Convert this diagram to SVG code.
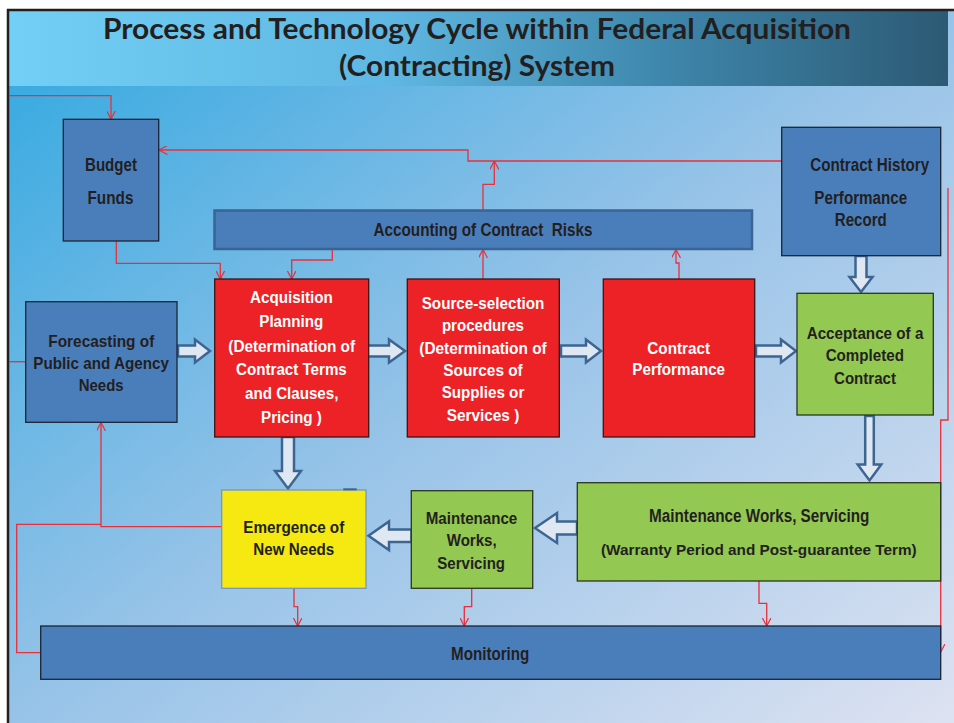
<svg xmlns="http://www.w3.org/2000/svg" width="954" height="723" viewBox="0 0 954 723">
<defs>
<linearGradient id="bg" x1="0" y1="0" x2="1" y2="1">
<stop offset="0" stop-color="#2fa8e0"/>
<stop offset="0.5" stop-color="#97c3e8"/>
<stop offset="1" stop-color="#dde2f1"/>
</linearGradient>
<linearGradient id="tb" x1="0" y1="0" x2="1" y2="0">
<stop offset="0" stop-color="#72cff5"/>
<stop offset="0.4" stop-color="#5fb8e3"/>
<stop offset="0.7" stop-color="#3e86ab"/>
<stop offset="1" stop-color="#2c5a74"/>
</linearGradient>
<marker id="ah" viewBox="0 0 9 9" refX="8.5" refY="4.5" markerWidth="9" markerHeight="9" markerUnits="userSpaceOnUse" orient="auto">
<path d="M0,0 L8.5,4.5 L0,9" fill="none" stroke="#e8303a" stroke-width="1.2"/>
</marker>
</defs>
<style>
.t{font-family:"Liberation Sans",Arial,sans-serif;font-weight:bold;fill:#231f20;text-anchor:middle}
.w{fill:#ffffff}
.blue{fill:#4a7ebb;stroke:#1c2433;stroke-width:1.3}
.red{fill:#ec2226;stroke:#3a1616;stroke-width:1.3}
.green{fill:#93c852;stroke:#2c3620;stroke-width:1.3}
.yel{fill:#f5e911;stroke:#6d93c6;stroke-width:1.2}
.bar{fill:#4a7ebb;stroke:#3a6495;stroke-width:2.5}
.ba{fill:#dfe7f3;stroke:#3d6592;stroke-width:2.5;stroke-linejoin:miter}
.c{fill:none;stroke:#e8303a;stroke-width:1.3}
.ca{fill:none;stroke:#e8303a;stroke-width:1.3;marker-end:url(#ah)}
</style>
<rect x="0" y="0" width="954" height="723" fill="#ffffff"/>
<rect x="9" y="11" width="945" height="712" fill="url(#bg)"/>
<rect x="9" y="11" width="939" height="75" fill="url(#tb)"/>
<line x1="7" y1="10" x2="954" y2="10" stroke="#231f20" stroke-width="2.5"/>
<line x1="8" y1="9" x2="8" y2="723" stroke="#231f20" stroke-width="2.5"/>
<g id="title">
<text x="477" y="39" style="font-family:Lato,'Open Sans',sans-serif;font-weight:bold;font-size:29px;fill:#231f20;text-anchor:middle" textLength="748" lengthAdjust="spacingAndGlyphs">Process and Technology Cycle within Federal Acquisition</text>
<text x="477" y="76" style="font-family:Lato,'Open Sans',sans-serif;font-weight:bold;font-size:29px;fill:#231f20;text-anchor:middle" textLength="276" lengthAdjust="spacingAndGlyphs">(Contracting) System</text>
</g>
<g id="connectors">
<polyline class="ca" points="9,95.7 111,95.7 111,119"/>
<polyline class="ca" points="782,161 468,161 468,150 159,150"/>
<polyline class="ca" points="483,210 483,184.3 494.3,184.3 494.3,161"/>
<polyline class="ca" points="483,279 483,249.5"/>
<polyline class="ca" points="679,279 679,263 676,263 676,249.5"/>
<polyline class="ca" points="332.3,249 332.3,260 291.7,260 291.7,279"/>
<polyline class="ca" points="116.3,241 116.3,263.3 220.3,263.3 220.3,279"/>
<polyline class="c" points="9,361.7 26,361.7"/>
<polyline class="ca" points="222,526.7 101,526.7 101,422.5"/>
<polyline class="c" points="41,652.7 16.7,652.7 16.7,524.3 101,524.3"/>
<polyline class="ca" points="294,588 294,606.7 297.7,606.7 297.7,626"/>
<polyline class="ca" points="471.7,588 471.7,606.7 464.3,606.7 464.3,626"/>
<polyline class="ca" points="759,581 759,603.3 766.7,603.3 766.7,626"/>
<polyline class="ca" points="948,188 948,420 940.7,420 940.7,652"/>
<polygon class="ba" points="178,345.5 195,345.5 195,339.5 210,351 195,362.5 195,356.5 178,356.5"/>
<polygon class="ba" points="367,345.5 389,345.5 389,339.5 405,351 389,362.5 389,356.5 367,356.5"/>
<polygon class="ba" points="561,345.5 586,345.5 586,339.5 601,351 586,362.5 586,356.5 561,356.5"/>
<polygon class="ba" points="756,345.5 781,345.5 781,339.5 796,351 781,362.5 781,356.5 756,356.5"/>
<polygon class="ba" points="855.5,256 866.5,256 866.5,277 872.5,277 861,292 849.5,277 855.5,277"/>
<polygon class="ba" points="865.2,416 873.8,416 873.8,464.5 881.3,464.5 869.5,480.5 857.7,464.5 865.2,464.5"/>
<polygon class="ba" points="282,437 294,437 294,471 301,471 288,488.5 275,471 282,471"/>
<polygon class="ba" points="577,521.5 557,521.5 557,513 535,528 557,543 557,534.5 577,534.5"/>
<polygon class="ba" points="411.5,529.5 389,529.5 389,521.5 368.5,535.8 389,550 389,542 411.5,542"/>
</g>
<g id="budget">
<rect class="blue" x="63.3" y="119.3" width="95.4" height="121.7"/>
<text class="t" x="111" y="171" font-size="18" textLength="52" lengthAdjust="spacingAndGlyphs">Budget</text>
<text class="t" x="110.5" y="204" font-size="18" textLength="46" lengthAdjust="spacingAndGlyphs">Funds</text>
</g>
<g id="accounting">
<rect class="bar" x="214.5" y="210.5" width="537.5" height="38.5"/>
<text class="t" x="483" y="235.5" font-size="18" style="white-space:pre" textLength="219" lengthAdjust="spacingAndGlyphs">Accounting of Contract  Risks</text>
</g>
<g id="history">
<rect class="blue" x="781.7" y="127.3" width="159" height="128.4"/>
<text class="t" x="869.7" y="171" font-size="18" textLength="119" lengthAdjust="spacingAndGlyphs">Contract History</text>
<text class="t" x="860.8" y="203.5" font-size="18" textLength="93" lengthAdjust="spacingAndGlyphs">Performance</text>
<text class="t" x="860.8" y="226" font-size="18" textLength="52" lengthAdjust="spacingAndGlyphs">Record</text>
</g>
<g id="forecasting">
<rect class="blue" x="25.7" y="301.7" width="151.3" height="120.6"/>
<text class="t" x="101.3" y="347" font-size="17" textLength="106" lengthAdjust="spacingAndGlyphs">Forecasting of</text>
<text class="t" x="101.2" y="369" font-size="17" textLength="135.7" lengthAdjust="spacingAndGlyphs">Public and Agency</text>
<text class="t" x="101.2" y="390.5" font-size="17" textLength="45" lengthAdjust="spacingAndGlyphs">Needs</text>
</g>
<g id="acquisition">
<rect class="red" x="214.7" y="279" width="154" height="158"/>
<text class="t w" x="291.4" y="303.3" font-size="16" textLength="82.7" lengthAdjust="spacingAndGlyphs">Acquisition</text>
<text class="t w" x="291.3" y="327.3" font-size="16" textLength="64" lengthAdjust="spacingAndGlyphs">Planning</text>
<text class="t w" x="291.7" y="351.5" font-size="16" textLength="126.7" lengthAdjust="spacingAndGlyphs">(Determination of</text>
<text class="t w" x="291.4" y="375.3" font-size="16" textLength="110.7" lengthAdjust="spacingAndGlyphs">Contract Terms</text>
<text class="t w" x="291.7" y="399.3" font-size="16" textLength="93.3" lengthAdjust="spacingAndGlyphs">and Clauses,</text>
<text class="t w" x="291.4" y="423.3" font-size="16" textLength="60.7" lengthAdjust="spacingAndGlyphs">Pricing )</text>
</g>
<g id="source">
<rect class="red" x="407.3" y="279" width="152" height="158"/>
<text class="t w" x="483" y="308.8" font-size="16" textLength="122.6" lengthAdjust="spacingAndGlyphs">Source-selection</text>
<text class="t w" x="482.9" y="331.2" font-size="16" textLength="82" lengthAdjust="spacingAndGlyphs">procedures</text>
<text class="t w" x="483" y="353.6" font-size="16" textLength="127.4" lengthAdjust="spacingAndGlyphs">(Determination of</text>
<text class="t w" x="483" y="376" font-size="16" textLength="79.4" lengthAdjust="spacingAndGlyphs">Sources of</text>
<text class="t w" x="483" y="398" font-size="16" textLength="82.6" lengthAdjust="spacingAndGlyphs">Supplies or</text>
<text class="t w" x="483" y="420.5" font-size="16" textLength="72.6" lengthAdjust="spacingAndGlyphs">Services )</text>
</g>
<g id="performance">
<rect class="red" x="603.3" y="279" width="151.4" height="158"/>
<text class="t w" x="678.7" y="353.5" font-size="17" textLength="62.7" lengthAdjust="spacingAndGlyphs">Contract</text>
<text class="t w" x="678.7" y="375.3" font-size="17" textLength="92.7" lengthAdjust="spacingAndGlyphs">Performance</text>
</g>
<g id="acceptance">
<rect class="green" x="797" y="293.3" width="136.3" height="121.7"/>
<text class="t" x="865" y="338.5" font-size="16.5" textLength="116.7" lengthAdjust="spacingAndGlyphs">Acceptance of a</text>
<text class="t" x="864.8" y="361" font-size="16.5" textLength="78.3" lengthAdjust="spacingAndGlyphs">Completed</text>
<text class="t" x="865" y="383.5" font-size="16.5" textLength="62" lengthAdjust="spacingAndGlyphs">Contract</text>
</g>
<g id="emergence">
<rect class="yel" x="221.7" y="490" width="144.3" height="98.3"/>
<line x1="343.3" y1="489.3" x2="356.7" y2="489.3" stroke="#3d6592" stroke-width="2"/>
<text class="t" x="293.8" y="533" font-size="17" textLength="101" lengthAdjust="spacingAndGlyphs">Emergence of</text>
<text class="t" x="293.8" y="554.5" font-size="17" textLength="81" lengthAdjust="spacingAndGlyphs">New Needs</text>
</g>
<g id="maintenance-small">
<rect class="green" x="411.3" y="490.7" width="121.4" height="97.6"/>
<text class="t" x="471.5" y="523.5" font-size="17" textLength="91.6" lengthAdjust="spacingAndGlyphs">Maintenance</text>
<text class="t" x="471.7" y="546" font-size="17" textLength="50" lengthAdjust="spacingAndGlyphs">Works,</text>
<text class="t" x="471.2" y="568.5" font-size="17" textLength="67.7" lengthAdjust="spacingAndGlyphs">Servicing</text>
</g>
<g id="maintenance-big">
<rect class="green" x="577.3" y="482.7" width="363.4" height="98.3"/>
<text class="t" x="759.2" y="522" font-size="17.5" textLength="220.3" lengthAdjust="spacingAndGlyphs">Maintenance Works, Servicing</text>
<text class="t" x="758.8" y="554.5" font-size="15.5" textLength="315.7" lengthAdjust="spacingAndGlyphs">(Warranty Period and Post-guarantee Term)</text>
</g>
<g id="monitoring">
<rect class="blue" x="40.7" y="626" width="900" height="53.3"/>
<text class="t" x="490.2" y="659.5" font-size="18" textLength="78.3" lengthAdjust="spacingAndGlyphs">Monitoring</text>
</g>
</svg>
